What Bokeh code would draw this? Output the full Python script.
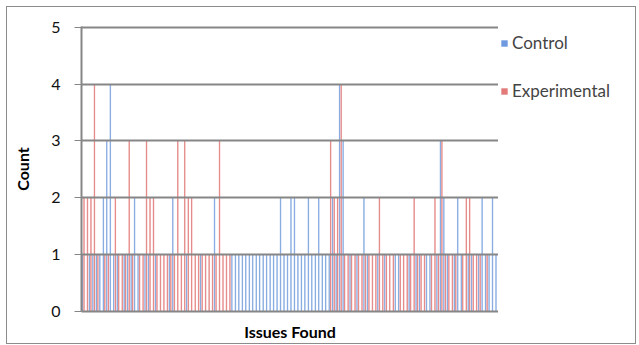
from bokeh.plotting import figure
from bokeh.layouts import row
from bokeh.models import FactorRange, Range1d, Legend, LegendItem, ColumnDataSource, FixedTicker
from bokeh.transform import dodge
from bokeh.embed import file_html
from bokeh.resources import INLINE

# ---- data ----
issues = ["Issue %d" % i for i in range(1, 121)]

control = [
    1, 0, 1, 1, 1, 1, 2, 3, 4, 1,
    1, 0, 1, 1, 1, 2, 1, 0, 1, 1,
    0, 1, 0, 0, 0, 1, 2, 0, 0, 0,
    1, 0, 0, 0, 1, 0, 0, 0, 2, 0,
    0, 0, 0, 1, 1, 1, 1, 1, 1, 1,
    1, 1, 1, 1, 1, 1, 1, 2, 1, 1,
    2, 2, 1, 1, 1, 2, 1, 1, 2, 1,
    1, 1, 2, 1, 4, 3, 0, 1, 0, 1,
    0, 2, 1, 0, 0, 1, 0, 1, 0, 0,
    1, 1, 0, 0, 1, 0, 1, 1, 0, 1,
    1, 0, 1, 3, 2, 1, 0, 1, 2, 1,
    0, 1, 1, 0, 1, 2, 1, 1, 2, 1,
]

experimental = [
    2, 2, 2, 4, 1, 0, 1, 1, 0, 2,
    1, 1, 1, 3, 1, 0, 1, 1, 3, 2,
    2, 1, 1, 1, 1, 1, 1, 3, 1, 3,
    2, 2, 1, 1, 1, 1, 1, 1, 1, 3,
    1, 1, 1, 0, 0, 0, 0, 0, 0, 0,
    0, 0, 0, 0, 0, 0, 0, 0, 0, 0,
    0, 0, 0, 0, 0, 0, 0, 0, 0, 0,
    0, 3, 2, 2, 4, 1, 1, 1, 1, 1,
    1, 1, 1, 1, 1, 2, 1, 1, 1, 1,
    0, 1, 1, 1, 1, 2, 1, 1, 1, 0,
    1, 2, 1, 3, 1, 1, 1, 1, 0, 1,
    2, 2, 1, 1, 1, 0, 1, 0, 0, 0,
]

y_ticks = [0, 1, 2, 3, 4, 5]
series_names = ["Control", "Experimental"]

src = ColumnDataSource(dict(issue=issues, control=control, experimental=experimental))

FONT = "Lato"
GRAY = "#868686"
BLUE_LIGHT, BLUE_DARK = "#b3cbf0", "#5b8bd0"
RED_LIGHT, RED_DARK = "#f4b3b3", "#d35f5c"

p = figure(
    x_range=FactorRange(*issues, range_padding=0),
    y_range=Range1d(0, 5.012),
    width=491, height=336,
    min_border_left=74, min_border_top=19, min_border_bottom=29, min_border_right=0,
    output_backend="svg", toolbar_location=None,
)
p.outline_line_color = None
p.background_fill_color = "white"
p.border_fill_color = "white"

# bars: light body + darker core to imitate the gradient fill
p.vbar(x=dodge("issue", -0.22, range=p.x_range), top="control", width=0.46,
       source=src, fill_color=BLUE_LIGHT, line_color=None, fill_alpha=0.9)
p.vbar(x=dodge("issue", -0.22, range=p.x_range), top="control", width=0.16,
       source=src, fill_color=BLUE_DARK, line_color=None, fill_alpha=0.9)
p.vbar(x=dodge("issue", 0.22, range=p.x_range), top="experimental", width=0.46,
       source=src, fill_color=RED_LIGHT, line_color=None, fill_alpha=0.9)
p.vbar(x=dodge("issue", 0.22, range=p.x_range), top="experimental", width=0.16,
       source=src, fill_color=RED_DARK, line_color=None, fill_alpha=0.9)

# grid
p.xgrid.grid_line_color = None
p.ygrid.ticker = FixedTicker(ticks=y_ticks)
p.ygrid.grid_line_color = GRAY
p.ygrid.grid_line_width = 2
p.ygrid.level = "overlay"

# y axis
p.yaxis.ticker = FixedTicker(ticks=y_ticks)
p.yaxis.axis_line_color = GRAY
p.yaxis.axis_line_width = 2
p.yaxis.major_tick_line_color = GRAY
p.yaxis.major_tick_line_width = 1
p.yaxis.major_tick_out = 7
p.yaxis.major_tick_in = 0
p.yaxis.minor_tick_line_color = None
p.yaxis.major_label_text_font = FONT
p.yaxis.major_label_text_font_size = "16px"
p.yaxis.major_label_text_color = "#111111"
p.yaxis.major_label_standoff = 14
p.yaxis.axis_label = "Count"
p.yaxis.axis_label_text_font = FONT
p.yaxis.axis_label_text_font_size = "16px"
p.yaxis.axis_label_text_font_style = "bold"
p.yaxis.axis_label_text_color = "#000000"
p.yaxis.axis_label_standoff = 16

# x axis
p.xaxis.axis_line_color = GRAY
p.xaxis.axis_line_width = 2
p.xaxis.major_tick_line_color = None
p.xaxis.minor_tick_line_color = None
p.xaxis.major_label_text_font_size = "0px"
p.xaxis.axis_label = "Issues Found"
p.xaxis.axis_label_text_font = FONT
p.xaxis.axis_label_text_font_size = "16px"
p.xaxis.axis_label_text_font_style = "bold"
p.xaxis.axis_label_text_color = "#000000"
p.xaxis.axis_label_standoff = 4

# legend panel (separate figure at the right of the plot area)
lg = figure(
    width=137, height=336, x_range=Range1d(0, 1), y_range=Range1d(0, 1),
    x_axis_location=None, y_axis_location=None,
    min_border=0, output_backend="svg", toolbar_location=None,
)
lg.outline_line_color = None
lg.grid.grid_line_color = None
lg.border_fill_color = "white"
# legend-only renderers: their single box lies outside this panel's ranges
rc = lg.quad(left=[5], right=[6], bottom=[5], top=[6], fill_color="#6f9ae0", line_color=None)
re = lg.quad(left=[5], right=[6], bottom=[5], top=[6], fill_color="#e27a7a", line_color=None)
legend = Legend(
    items=[LegendItem(label=series_names[0], renderers=[rc]),
           LegendItem(label=series_names[1], renderers=[re])],
    location=(2, 210), margin=0, padding=8, spacing=27,
    glyph_width=8, glyph_height=8, label_standoff=4,
    label_text_font=FONT, label_text_font_size="17px",
    border_line_color=None, background_fill_alpha=0,
)
lg.add_layout(legend)

layout = row(p, lg, margin=(6, 0, 0, 6), styles={"border": "1px solid #8c8c8c"})

open("out.html", "w").write(file_html(layout, INLINE))
